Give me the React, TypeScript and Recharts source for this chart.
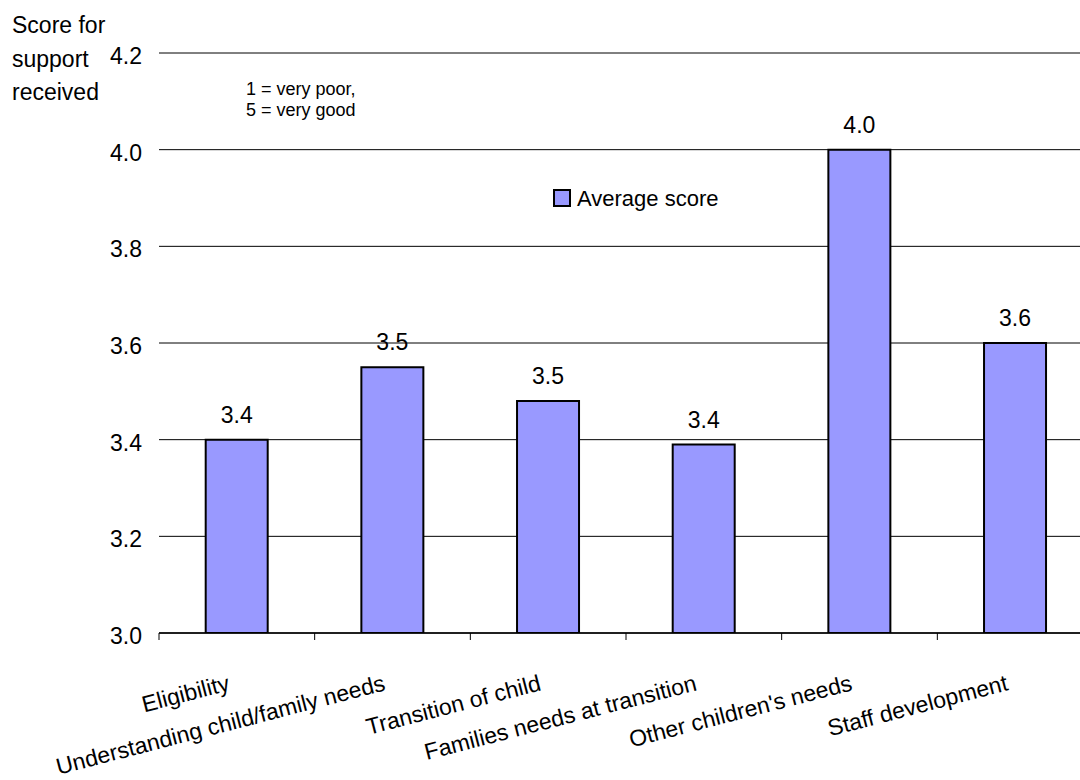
import React from "react";
import { BarChart, Bar, XAxis, YAxis, CartesianGrid, LabelList, Legend } from "recharts";

const categories = [
  "Eligibility",
  "Understanding child/family needs",
  "Transition of child",
  "Families needs at transition",
  "Other children's needs",
  "Staff development",
];
const averageScores = [3.4, 3.55, 3.48, 3.39, 4.0, 3.6];
const yTicks = [3.0, 3.2, 3.4, 3.6, 3.8, 4.0, 4.2];
const seriesName = "Average score";
const yTitleLines = ["Score for", "support", "received"];
const noteLines = ["1 = very poor,", "5 = very good"];

const data = categories.map((c, i) => ({ category: c, score: averageScores[i] }));

const FONT = "'Liberation Sans', Arial, sans-serif";
const BAR_FILL = "#9999FF";

const XTick = (props: any) => {
  const { x, y, payload, index, width, visibleTicksCount } = props;
  const count = visibleTicksCount || categories.length;
  const band = (typeof width === "number" && width > 0 ? width : 934) / count;
  const axisY = y - 7;
  const left = x - band / 2;
  const right = x + band / 2;
  const ax = x - 6;
  const ay = axisY + 57;
  return (
    <g>
      <line x1={left} x2={left} y1={axisY} y2={axisY + 7} stroke="#000" strokeWidth={1} />
      {index === count - 1 && (
        <line x1={right} x2={right} y1={axisY} y2={axisY + 7} stroke="#000" strokeWidth={1} />
      )}
      <text
        x={ax}
        y={ay}
        textAnchor="end"
        fontSize={23}
        fontFamily={FONT}
        fill="#000"
        transform={`rotate(-14.5, ${ax}, ${ay})`}
      >
        {payload.value}
      </text>
    </g>
  );
};

const YTick = (props: any) => {
  const { x, y, payload } = props;
  return (
    <text x={x} y={y + 11} textAnchor="end" fontSize={23} fontFamily={FONT} fill="#000">
      {Number(payload.value).toFixed(1)}
    </text>
  );
};

const LegendContent = () => (
  <div style={{ display: "flex", alignItems: "center", fontFamily: FONT, fontSize: 22, color: "#000" }}>
    <svg width={20} height={20} style={{ marginRight: 4 }}>
      <rect x={1} y={1} width={16} height={16} fill={BAR_FILL} stroke="#000" strokeWidth={2} />
    </svg>
    <span>{seriesName}</span>
  </div>
);

export default function App() {
  return (
    <div
      style={{
        position: "absolute",
        left: 0,
        top: 0,
        width: 1080,
        height: 780,
        overflow: "hidden",
        background: "#fff",
        fontFamily: FONT,
      }}
    >
      <BarChart
        width={1100}
        height={780}
        data={data}
        margin={{ top: 53, right: 7, bottom: 0, left: 0 }}
        barCategoryGap="30%"
      >
        <CartesianGrid horizontal vertical={false} stroke="#000" strokeWidth={1} />
        <XAxis
          dataKey="category"
          interval={0}
          height={147}
          tickLine={false}
          tickSize={7}
          tickMargin={0}
          axisLine={{ stroke: "#000", strokeWidth: 1.5 }}
          tick={<XTick />}
        />
        <YAxis
          domain={[3.0, 4.2]}
          ticks={yTicks}
          type="number"
          width={159}
          axisLine={false}
          tickLine={false}
          tickSize={0}
          tickMargin={17}
          tick={<YTick />}
          allowDataOverflow
        />
        <Legend
          layout="horizontal"
          verticalAlign="middle"
          align="center"
          content={<LegendContent />}
          wrapperStyle={{ position: "absolute", left: 553, top: 186, width: 200, height: 30 }}
        />
        <Bar
          dataKey="score"
          name={seriesName}
          fill={BAR_FILL}
          stroke="#000"
          strokeWidth={2}
          isAnimationActive={false}
        >
          <LabelList
            dataKey="score"
            position="top"
            offset={17}
            fontSize={23}
            fontFamily={FONT}
            fill="#000"
            formatter={(v: any) => Number(v).toFixed(1)}
          />
        </Bar>
      </BarChart>
      <svg
        width={400}
        height={130}
        style={{ position: "absolute", left: 0, top: 0, pointerEvents: "none" }}
      >
        {yTitleLines.map((t, i) => (
          <text key={t} x={12} y={33 + i * 33.5} fontSize={23} fontFamily={FONT} fill="#000">
            {t}
          </text>
        ))}
        {noteLines.map((t, i) => (
          <text key={t} x={246} y={95 + i * 21} fontSize={18} fontFamily={FONT} fill="#000">
            {t}
          </text>
        ))}
      </svg>
    </div>
  );
}
